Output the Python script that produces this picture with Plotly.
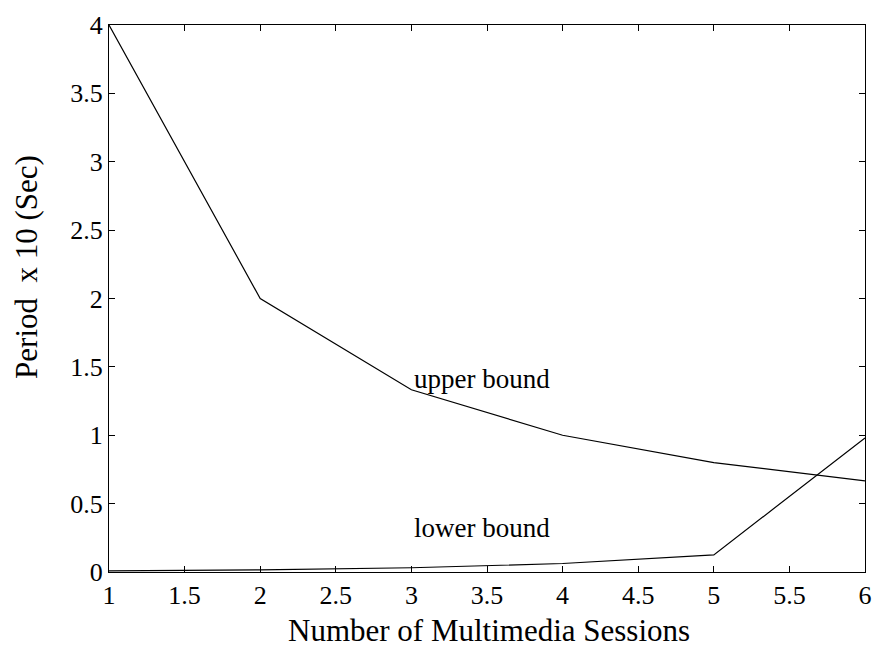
import plotly.graph_objects as go

sessions = [1, 2, 3, 4, 5, 6]
upper_bound = [4.0, 2.0, 1.333, 1.0, 0.8, 0.667]
lower_bound = [0.008, 0.016, 0.031, 0.062, 0.125, 0.98]
x_ticks = [1, 1.5, 2, 2.5, 3, 3.5, 4, 4.5, 5, 5.5, 6]
y_ticks = [0, 0.5, 1, 1.5, 2, 2.5, 3, 3.5, 4]

font = "Liberation Serif, Times New Roman, serif"

fig = go.Figure()
fig.add_trace(go.Scatter(x=sessions, y=upper_bound, mode="lines",
                         line=dict(color="black", width=1.2), showlegend=False))
fig.add_trace(go.Scatter(x=sessions, y=lower_bound, mode="lines",
                         line=dict(color="black", width=1.2), showlegend=False))

fig.add_annotation(x=3.47, y=1.41, text="upper bound", showarrow=False,
                   font=dict(family=font, size=27, color="black"))
fig.add_annotation(x=3.47, y=0.32, text="lower bound", showarrow=False,
                   font=dict(family=font, size=27, color="black"))

# axis titles
fig.add_annotation(xref="paper", yref="paper", x=0.502, y=-0.107,
                   xanchor="center", yanchor="middle", showarrow=False,
                   text="Number of Multimedia Sessions",
                   font=dict(family=font, size=31, color="black"))
fig.add_annotation(xref="paper", yref="paper", x=-0.109, y=0.557,
                   xanchor="center", yanchor="middle", showarrow=False, textangle=-90,
                   text="Period  x 10 (Sec)",
                   font=dict(family=font, size=31, color="black"))

axis_common = dict(showgrid=False, zeroline=False, showline=True, linecolor="black",
                   linewidth=1.2, mirror="ticks", ticks="inside", ticklen=6,
                   tickcolor="black", tickfont=dict(family=font, size=26, color="black"))

fig.update_xaxes(range=[1, 6], tickvals=x_ticks, ticktext=[f"{v:g}" for v in x_ticks],
                 **axis_common)
fig.update_yaxes(range=[0, 4], tickvals=y_ticks, ticktext=[f"{v:g}" for v in y_ticks],
                 **axis_common)

fig.update_layout(width=883, height=652, plot_bgcolor="white", paper_bgcolor="white",
                  margin=dict(l=109, r=11, t=19, b=80))

fig.write_html("out.html")
